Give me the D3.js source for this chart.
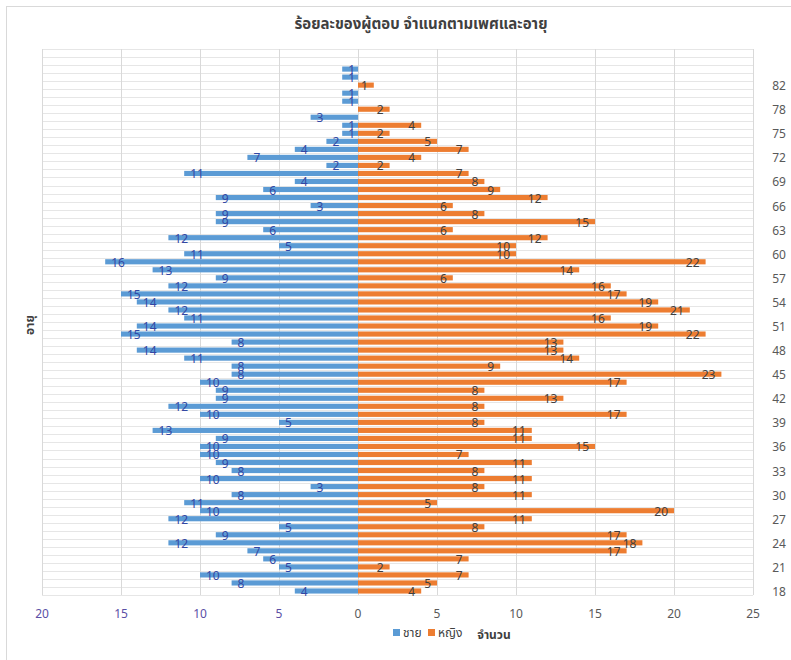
<!DOCTYPE html>
<html>
<head>
<meta charset="utf-8">
<script src="https://cdn.jsdelivr.net/npm/d3@7"></script>
<style>
  html, body { margin: 0; padding: 0; background: #fff; }
  svg { display: block; }
  text { font-family: "Noto Sans Thai", "Tahoma", "Loma", "Garuda", "Lato", "Noto Sans", sans-serif; }
</style>
</head>
<body>
<script>
// ---- data (bottom row first) ----
const ages = [
  "18","19","20","21","22","23","24","25","26","27",
  "28","29","30","31","32","33","34","35","36","37",
  "38","39","40","41","42","43","44","45","46","47",
  "48","49","50","51","52","53","54","55","56","57",
  "58","59","60","61","62","63","64","65","66","67",
  "68","69","70","71","72","73","74","75","76","77",
  "78","79","80","82","83","84","",""
];
const male = [
  4,8,10,5,6,7,12,9,5,12,
  10,11,8,3,10,8,9,10,10,9,
  13,5,10,12,9,9,10,8,8,11,
  14,8,15,14,11,12,14,15,12,9,
  13,16,11,5,12,6,9,9,3,9,
  6,4,11,2,7,4,2,1,1,3,
  null,1,1,null,1,1,null,null
];
const female = [
  4,5,7,2,7,17,18,17,8,11,
  20,5,11,8,11,8,11,7,15,11,
  11,8,17,8,13,8,17,23,9,14,
  13,13,22,19,16,21,19,17,16,6,
  14,22,10,10,12,6,15,8,6,12,
  9,8,7,2,4,7,5,2,4,null,
  2,null,null,1,null,null,null,null
];
const xTicks = [-20,-15,-10,-5,0,5,10,15,20,25];
const seriesNames = ["ชาย","หญิง"];
const titleText = "ร้อยละของผู้ตอบ จำแนกตามเพศและอายุ";
const yTitle = "อายุ";
const xTitle = "จำนวน";

// ---- layout ----
const W = 791, H = 660;
const plot = {left: 42, right: 753, top: 49, bottom: 595};
const colors = {male: "#5b9bd5", female: "#ed7d31"};

const svg = d3.select("body").append("svg").attr("width", W).attr("height", H);

// outer border
svg.append("rect").attr("x", 6.5).attr("y", 6.5).attr("width", 800).attr("height", 680)
  .attr("fill", "none").attr("stroke", "#d9d9d9");

const x = d3.scaleLinear().domain([-20, 25]).range([plot.left, plot.right]);
const idx = d3.range(ages.length);
const y = d3.scaleBand().domain(idx).range([plot.bottom, plot.top]).paddingInner(0.36).paddingOuter(0.18);

// horizontal gridlines at row boundaries
const g = svg.append("g");
const bounds = d3.range(ages.length + 1).map(i => plot.bottom - i * (plot.bottom - plot.top) / ages.length);
g.selectAll("line.h").data(bounds).join("line")
  .attr("x1", plot.left).attr("x2", plot.right)
  .attr("y1", d => Math.round(d) + 0.5).attr("y2", d => Math.round(d) + 0.5)
  .attr("stroke", "#e6e6e6").attr("stroke-width", 1);

// vertical gridlines
g.selectAll("line.v").data(xTicks).join("line")
  .attr("x1", d => Math.round(x(d)) + 0.5).attr("x2", d => Math.round(x(d)) + 0.5)
  .attr("y1", plot.top).attr("y2", plot.bottom)
  .attr("stroke", "#d9d9d9").attr("stroke-width", 1);

// bars
const rows = idx.map(i => ({i, m: male[i], f: female[i]}));
svg.append("g").selectAll("rect").data(rows.filter(d => d.m != null)).join("rect")
  .attr("x", d => x(-d.m)).attr("width", d => x(0) - x(-d.m))
  .attr("y", d => y(d.i)).attr("height", y.bandwidth())
  .attr("fill", colors.male);
svg.append("g").selectAll("rect").data(rows.filter(d => d.f != null)).join("rect")
  .attr("x", x(0)).attr("width", d => x(d.f) - x(0))
  .attr("y", d => y(d.i)).attr("height", y.bandwidth())
  .attr("fill", colors.female);

// data labels
svg.append("g").selectAll("text").data(rows.filter(d => d.m != null)).join("text")
  .attr("x", d => x(-d.m) + 6)
  .attr("y", d => y(d.i) + y.bandwidth() / 2 + 5)
  .attr("text-anchor", "start")
  .attr("font-size", 12).attr("fill", "#3347a3")
  .text(d => d.m);
svg.append("g").selectAll("text").data(rows.filter(d => d.f != null)).join("text")
  .attr("x", d => x(d.f) - 6)
  .attr("y", d => y(d.i) + y.bandwidth() / 2 + 5)
  .attr("text-anchor", "end")
  .attr("font-size", 12).attr("fill", "#404040")
  .text(d => d.f);

// x axis tick labels
svg.append("g").selectAll("text").data(xTicks).join("text")
  .attr("x", d => x(d)).attr("y", 618)
  .attr("text-anchor", "middle").attr("font-size", 12)
  .attr("fill", d => d < 0 ? "#5b4fa5" : "#595959")
  .text(d => Math.abs(d));

// right category labels (every 3rd)
svg.append("g").selectAll("text").data(idx.filter(i => i % 3 === 0 && ages[i] !== "")).join("text")
  .attr("x", 779).attr("y", i => y(i) + y.bandwidth() / 2 + 5)
  .attr("text-anchor", "middle").attr("font-size", 12).attr("fill", "#595959")
  .text(i => ages[i]);

// title
svg.append("text").attr("x", 421).attr("y", 29).attr("text-anchor", "middle")
  .attr("font-size", 15).attr("font-weight", "bold").attr("fill", "#404040")
  .text(titleText);

// y title
svg.append("text").attr("transform", "translate(34,325) rotate(-90)")
  .attr("text-anchor", "middle").attr("font-size", 12).attr("font-weight", "bold")
  .attr("fill", "#404040").text(yTitle);

// x title
svg.append("text").attr("x", 494).attr("y", 639).attr("text-anchor", "middle")
  .attr("font-size", 12).attr("font-weight", "bold").attr("fill", "#404040").text(xTitle);

// legend
const legend = svg.append("g").attr("transform", "translate(393,629)");
const lg = [{n: seriesNames[0], c: colors.male, x: 0}, {n: seriesNames[1], c: colors.female, x: 35}];
lg.forEach(d => {
  legend.append("rect").attr("x", d.x).attr("y", 0).attr("width", 7).attr("height", 7).attr("fill", d.c);
  legend.append("text").attr("x", d.x + 10).attr("y", 8).attr("font-size", 12)
    .attr("fill", "#404040").text(d.n);
});
</script>
</body>
</html>
